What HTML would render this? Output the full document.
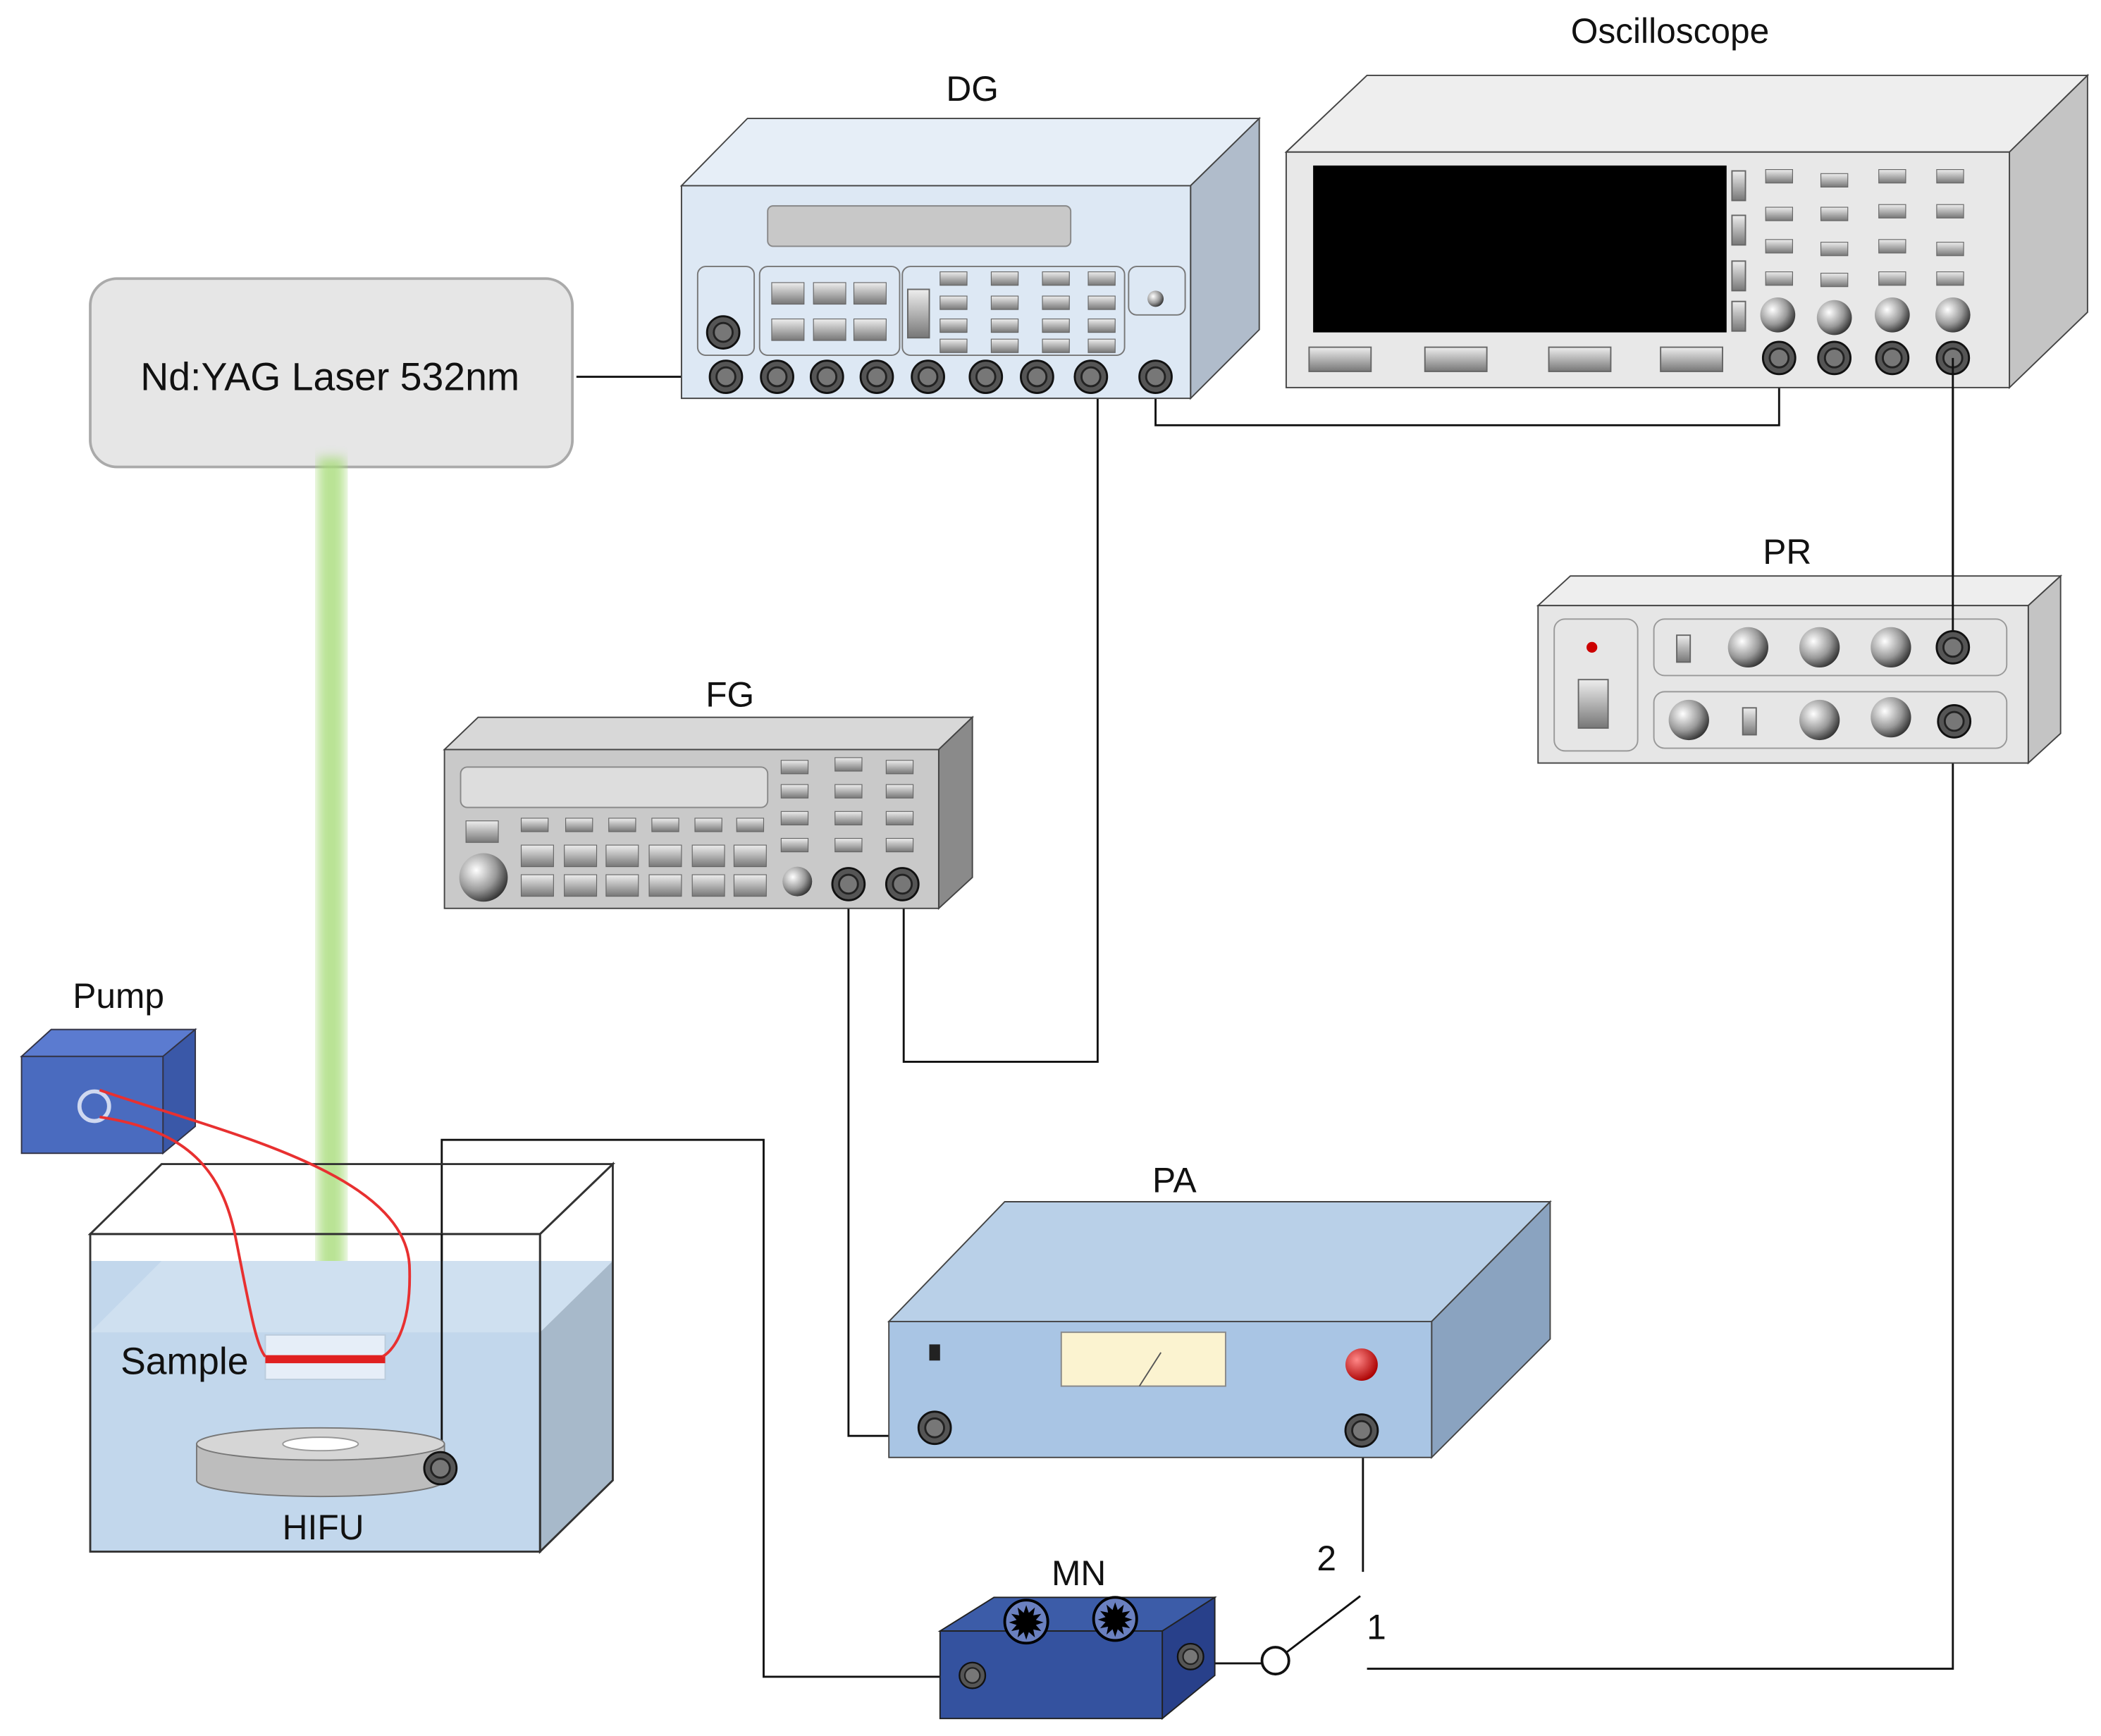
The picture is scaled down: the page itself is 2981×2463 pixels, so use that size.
<!DOCTYPE html>
<html><head><meta charset="utf-8"><style>
html,body{margin:0;padding:0;background:#fff}
svg{display:block}
text{font-family:"Liberation Sans","DejaVu Sans",sans-serif;font-size:26px;fill:#111;text-anchor:middle}
</style></head><body>
<svg width="2981" height="2463" viewBox="0 0 1560 1290" preserveAspectRatio="none" xmlns="http://www.w3.org/2000/svg">
<defs>
<radialGradient id="kn" cx="35%" cy="35%" r="70%"><stop offset="0" stop-color="#fff"/><stop offset="0.6" stop-color="#999"/><stop offset="1" stop-color="#333"/></radialGradient>
<radialGradient id="rk" cx="35%" cy="35%" r="70%"><stop offset="0" stop-color="#f88"/><stop offset="1" stop-color="#a00"/></radialGradient>
<linearGradient id="btn" x1="0" y1="0" x2="0" y2="1"><stop offset="0" stop-color="#eee"/><stop offset="1" stop-color="#777"/></linearGradient>
<filter id="bl"><feGaussianBlur stdDeviation="4"/></filter>
<g id="cn"><circle r="12" fill="#555" stroke="#111" stroke-width="1.5"/><circle r="7" fill="#777" stroke="#222" stroke-width="1.5"/></g>
<g id="sb"><rect x="-10" y="-5" width="20" height="10" fill="url(#btn)" stroke="#666" stroke-width="0.6"/></g>
<g id="bb"><rect x="-12" y="-8" width="24" height="16" fill="url(#btn)" stroke="#666" stroke-width="0.6"/></g>
</defs>

<!-- Laser -->
<rect x="67" y="207" width="358" height="140" rx="20" fill="#e6e6e6" stroke="#aaa" stroke-width="2"/>
<text x="245" y="290" style="font-size:29px">Nd:YAG Laser 532nm</text>
<rect x="236" y="340" width="20" height="670" fill="#a8dc7a" opacity="0.8" filter="url(#bl)"/>

<!-- wires -->
<g fill="none" stroke="#111" stroke-width="1.5">
<path d="M428 280H527"/>
<path d="M858 280V316H1321V266"/>
<path d="M1450 266V481"/>
<path d="M1450 536V1240H1015"/>
<path d="M815 280V789H671V657"/>
<path d="M630 657V1067H682"/>
<path d="M328 1091V847H567V1246H710"/>
<path d="M896 1236H937"/>
<path d="M955 1228L1010 1186"/>
<path d="M1012 1075V1168"/>
</g>
<circle cx="947" cy="1234" r="10" fill="#fff" stroke="#111" stroke-width="2"/>
<text x="985" y="1167">2</text><text x="1022" y="1218">1</text>

<!-- DG -->
<polygon points="506,138 555,88 935,88 884,138" fill="#e6eef7" stroke="#444"/>
<polygon points="884,138 935,88 935,245 884,296" fill="#b0bccb" stroke="#444"/>
<rect x="506" y="138" width="378" height="158" fill="#dde8f4" stroke="#444"/>
<rect x="570" y="153" width="225" height="30" rx="4" fill="#c8c8c8" stroke="#888"/>
<rect x="518" y="198" width="42" height="66" rx="6" fill="#dde8f4" stroke="#777"/>
<rect x="564" y="198" width="104" height="66" rx="6" fill="#dde8f4" stroke="#777"/>
<rect x="670" y="198" width="165" height="66" rx="6" fill="#dde8f4" stroke="#777"/>
<rect x="838" y="198" width="42" height="36" rx="6" fill="#dde8f4" stroke="#777"/>
<circle cx="858" cy="222" r="6" fill="url(#kn)"/>
<use href="#cn" x="537" y="247"/>
<use href="#bb" x="585" y="218"/><use href="#bb" x="616" y="218"/><use href="#bb" x="646" y="218"/>
<use href="#bb" x="585" y="245"/><use href="#bb" x="616" y="245"/><use href="#bb" x="646" y="245"/>
<rect x="674" y="215" width="16" height="36" fill="url(#btn)" stroke="#666"/>
<g><use href="#sb" x="708" y="207"/><use href="#sb" x="746" y="207"/><use href="#sb" x="784" y="207"/><use href="#sb" x="818" y="207"/>
<use href="#sb" x="708" y="225"/><use href="#sb" x="746" y="225"/><use href="#sb" x="784" y="225"/><use href="#sb" x="818" y="225"/>
<use href="#sb" x="708" y="242"/><use href="#sb" x="746" y="242"/><use href="#sb" x="784" y="242"/><use href="#sb" x="818" y="242"/>
<use href="#sb" x="708" y="257"/><use href="#sb" x="746" y="257"/><use href="#sb" x="784" y="257"/><use href="#sb" x="818" y="257"/></g>
<use href="#cn" x="539" y="280"/><use href="#cn" x="577" y="280"/><use href="#cn" x="614" y="280"/><use href="#cn" x="651" y="280"/><use href="#cn" x="689" y="280"/><use href="#cn" x="732" y="280"/><use href="#cn" x="770" y="280"/><use href="#cn" x="810" y="280"/><use href="#cn" x="858" y="280"/>
<text x="722" y="75">DG</text>

<!-- Oscilloscope -->
<polygon points="955,113 1015,56 1550,56 1492,113" fill="#eee" stroke="#444"/>
<polygon points="1492,113 1550,56 1550,232 1492,288" fill="#c4c4c4" stroke="#444"/>
<rect x="955" y="113" width="537" height="175" fill="#e8e8e8" stroke="#444"/>
<rect x="975" y="123" width="307" height="124" fill="#000"/>
<g><rect x="1286" y="127" width="10" height="22" fill="url(#btn)" stroke="#666"/><rect x="1286" y="160" width="10" height="22" fill="url(#btn)" stroke="#666"/><rect x="1286" y="194" width="10" height="22" fill="url(#btn)" stroke="#666"/><rect x="1286" y="224" width="10" height="22" fill="url(#btn)" stroke="#666"/></g>
<g><use href="#sb" x="1321" y="131"/><use href="#sb" x="1362" y="134"/><use href="#sb" x="1405" y="131"/><use href="#sb" x="1448" y="131"/>
<use href="#sb" x="1321" y="159"/><use href="#sb" x="1362" y="159"/><use href="#sb" x="1405" y="157"/><use href="#sb" x="1448" y="157"/>
<use href="#sb" x="1321" y="183"/><use href="#sb" x="1362" y="185"/><use href="#sb" x="1405" y="183"/><use href="#sb" x="1448" y="185"/>
<use href="#sb" x="1321" y="207"/><use href="#sb" x="1362" y="208"/><use href="#sb" x="1405" y="207"/><use href="#sb" x="1448" y="207"/></g>
<circle cx="1320" cy="234" r="13" fill="url(#kn)"/><circle cx="1362" cy="236" r="13" fill="url(#kn)"/><circle cx="1405" cy="234" r="13" fill="url(#kn)"/><circle cx="1450" cy="234" r="13" fill="url(#kn)"/>
<use href="#cn" x="1321" y="266"/><use href="#cn" x="1362" y="266"/><use href="#cn" x="1405" y="266"/><use href="#cn" x="1450" y="266"/>
<rect x="972" y="258" width="46" height="18" fill="url(#btn)" stroke="#666"/><rect x="1058" y="258" width="46" height="18" fill="url(#btn)" stroke="#666"/><rect x="1150" y="258" width="46" height="18" fill="url(#btn)" stroke="#666"/><rect x="1233" y="258" width="46" height="18" fill="url(#btn)" stroke="#666"/>
<text x="1240" y="32">Oscilloscope</text>

<!-- PR -->
<polygon points="1142,450 1166,428 1530,428 1506,450" fill="#eee" stroke="#444"/>
<polygon points="1506,450 1530,428 1530,545 1506,567" fill="#c4c4c4" stroke="#444"/>
<rect x="1142" y="450" width="364" height="117" fill="#e6e6e6" stroke="#444"/>
<rect x="1154" y="460" width="62" height="98" rx="8" fill="#e6e6e6" stroke="#999"/>
<rect x="1228" y="460" width="262" height="42" rx="8" fill="#e6e6e6" stroke="#999"/>
<rect x="1228" y="514" width="262" height="42" rx="8" fill="#e6e6e6" stroke="#999"/>
<circle cx="1182" cy="481" r="4" fill="#c00"/>
<rect x="1172" y="505" width="22" height="36" fill="url(#btn)" stroke="#666"/>
<rect x="1245" y="472" width="10" height="20" fill="url(#btn)" stroke="#666"/><rect x="1294" y="526" width="10" height="20" fill="url(#btn)" stroke="#666"/>
<circle cx="1298" cy="481" r="15" fill="url(#kn)"/><circle cx="1351" cy="481" r="15" fill="url(#kn)"/><circle cx="1404" cy="481" r="15" fill="url(#kn)"/>
<circle cx="1254" cy="535" r="15" fill="url(#kn)"/><circle cx="1351" cy="535" r="15" fill="url(#kn)"/><circle cx="1404" cy="533" r="15" fill="url(#kn)"/>
<path d="M1450 266V481" fill="none" stroke="#111" stroke-width="1.5"/>
<use href="#cn" x="1450" y="481"/><use href="#cn" x="1451" y="536"/>
<text x="1327" y="419">PR</text>

<!-- FG -->
<polygon points="330,557 355,533 722,533 697,557" fill="#d8d8d8" stroke="#444"/>
<polygon points="697,557 722,533 722,652 697,675" fill="#8a8a8a" stroke="#444"/>
<rect x="330" y="557" width="367" height="118" fill="#c9c9c9" stroke="#444"/>
<rect x="342" y="570" width="228" height="30" rx="5" fill="#ddd" stroke="#888"/>
<g><use href="#sb" x="590" y="570"/><use href="#sb" x="630" y="568"/><use href="#sb" x="668" y="570"/>
<use href="#sb" x="590" y="588"/><use href="#sb" x="630" y="588"/><use href="#sb" x="668" y="588"/>
<use href="#sb" x="590" y="608"/><use href="#sb" x="630" y="608"/><use href="#sb" x="668" y="608"/>
<use href="#sb" x="590" y="628"/><use href="#sb" x="630" y="628"/><use href="#sb" x="668" y="628"/>
<use href="#sb" x="397" y="613"/><use href="#sb" x="430" y="613"/><use href="#sb" x="462" y="613"/><use href="#sb" x="494" y="613"/><use href="#sb" x="526" y="613"/><use href="#sb" x="557" y="613"/>
<use href="#bb" x="358" y="618"/>
<use href="#bb" x="399" y="636"/><use href="#bb" x="431" y="636"/><use href="#bb" x="462" y="636"/><use href="#bb" x="494" y="636"/><use href="#bb" x="526" y="636"/><use href="#bb" x="557" y="636"/>
<use href="#bb" x="399" y="658"/><use href="#bb" x="431" y="658"/><use href="#bb" x="462" y="658"/><use href="#bb" x="494" y="658"/><use href="#bb" x="526" y="658"/><use href="#bb" x="557" y="658"/></g>
<circle cx="359" cy="652" r="18" fill="url(#kn)"/><circle cx="592" cy="655" r="11" fill="url(#kn)"/>
<use href="#cn" x="630" y="657"/><use href="#cn" x="670" y="657"/>
<text x="542" y="525">FG</text>

<!-- PA -->
<polygon points="660,982 746,893 1151,893 1063,982" fill="#b9d0e8" stroke="#444"/>
<polygon points="1063,982 1151,893 1151,995 1063,1083" fill="#8aa3c0" stroke="#444"/>
<rect x="660" y="982" width="403" height="101" fill="#a9c5e4" stroke="#444"/>
<rect x="788" y="990" width="122" height="40" fill="#fbf3d0" stroke="#888"/>
<line x1="846" y1="1030" x2="862" y2="1005" stroke="#555"/>
<rect x="690" y="999" width="8" height="12" fill="#222"/>
<circle cx="1011" cy="1014" r="12" fill="url(#rk)"/>
<use href="#cn" x="694" y="1061"/><use href="#cn" x="1011" y="1063"/>
<text x="872" y="886">PA</text>

<!-- MN -->
<polygon points="698,1212 738,1187 902,1187 863,1212" fill="#3c5ca8" stroke="#222"/>
<polygon points="863,1212 902,1187 902,1245 863,1277" fill="#28408a" stroke="#222"/>
<rect x="698" y="1212" width="165" height="65" fill="#34529f" stroke="#222"/>
<g fill="#000"><circle cx="762" cy="1205" r="16" fill="#6a80c0" stroke="#000" stroke-width="2"/><circle cx="828" cy="1203" r="16" fill="#6a80c0" stroke="#000" stroke-width="2"/>
<text x="762" y="1218" style="font-size:34px;fill:#000">✹</text><text x="828" y="1216" style="font-size:34px;fill:#000">✹</text></g>
<use href="#cn" x="722" y="1245" transform="translate(722 1245) scale(0.8) translate(-722 -1245)"/>
<use href="#cn" x="884" y="1231" transform="translate(884 1231) scale(0.8) translate(-884 -1231)"/>
<text x="801" y="1178">MN</text>

<!-- Tank -->
<polygon points="67,917 120,865 455,865 401,917" fill="none" stroke="#333" stroke-width="1.5"/>
<polygon points="67,990 120,937 455,937 401,990" fill="#cfe0f0"/>
<rect x="67" y="937" width="334" height="216" fill="#c2d7ec"/>
<polygon points="67,990 120,937 401,937 401,990" fill="#cfe0f0"/>
<polygon points="401,990 455,937 455,1100 401,1153" fill="#a7b9ca"/>
<polygon points="401,917 455,865 455,1100 401,1153" fill="none" stroke="#333" stroke-width="1.5"/>
<rect x="67" y="917" width="334" height="236" fill="none" stroke="#333" stroke-width="1.5"/>
<path d="M328 1091V917" fill="none" stroke="#111" stroke-width="1.5"/>
<!-- HIFU -->
<path d="M146 1073V1100A92 12 0 0 0 330 1100V1073Z" fill="#bdbdbd" stroke="#777"/>
<ellipse cx="238" cy="1073" rx="92" ry="12" fill="#d6d6d6" stroke="#777"/>
<ellipse cx="238" cy="1073" rx="28" ry="5" fill="#fff" stroke="#999"/>
<use href="#cn" x="327" y="1091"/>
<text x="240" y="1144">HIFU</text>
<!-- Sample -->
<rect x="197" y="992" width="89" height="33" fill="#e6eef8" stroke="#bcd"/>
<rect x="197" y="1007" width="89" height="6" fill="#e02020"/>
<text x="137" y="1021" style="font-size:28px">Sample</text>
<!-- Pump -->
<polygon points="16,785 38,765 145,765 121,785" fill="#5b7bd0" stroke="#334"/>
<polygon points="121,785 145,765 145,837 121,857" fill="#3a58a8" stroke="#334"/>
<rect x="16" y="785" width="105" height="72" fill="#4a6bbf" stroke="#334"/>
<circle cx="70" cy="822" r="11" fill="none" stroke="#cfd8f0" stroke-width="3"/>
<text x="88" y="749">Pump</text>
<!-- tubes -->
<path d="M74 810C160 840 300 870 304 940C306 990 290 1005 284 1008" fill="none" stroke="#e83030" stroke-width="2"/>
<path d="M74 830C140 840 165 870 175 920C185 970 190 1000 197 1008" fill="none" stroke="#e83030" stroke-width="2"/>
</svg>
</body></html>
